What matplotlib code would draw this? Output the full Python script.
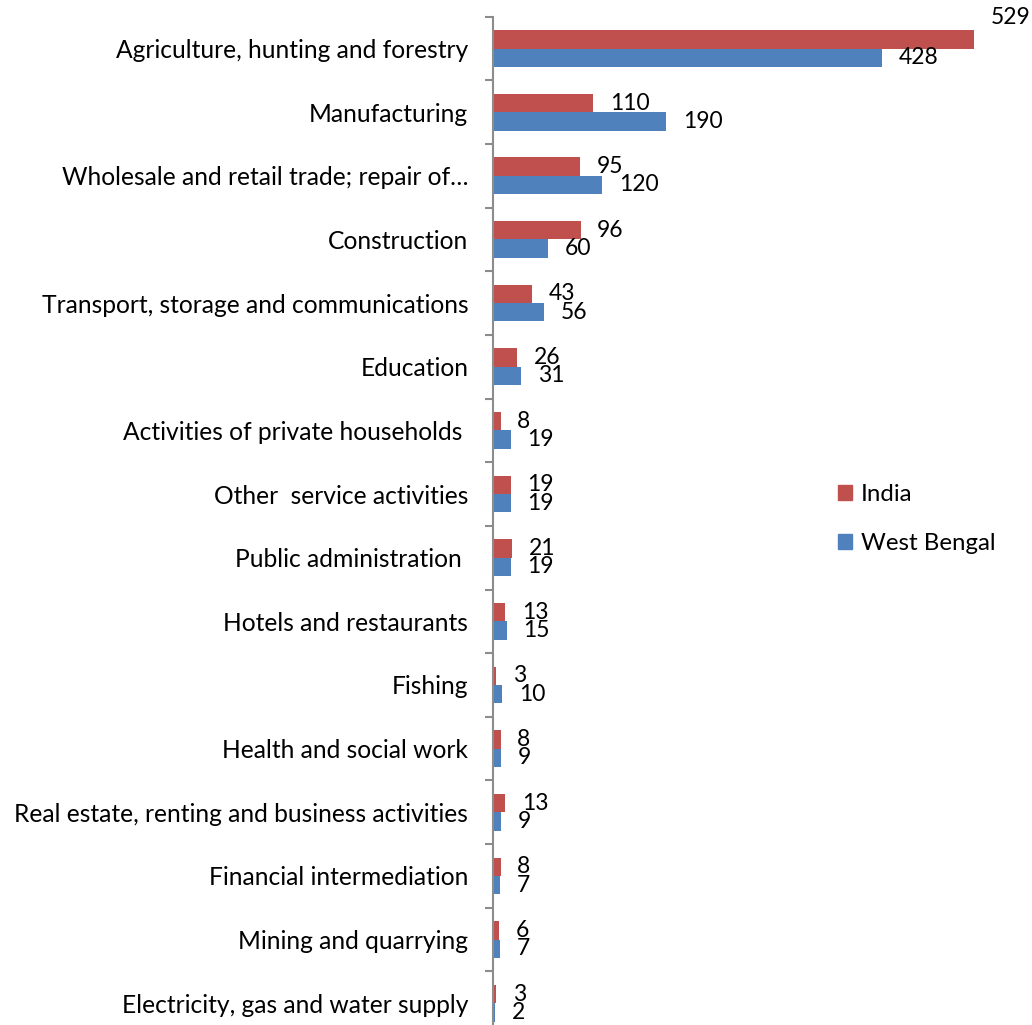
import matplotlib.pyplot as plt
import numpy as np
from matplotlib.patches import Patch

plt.rcParams['font.family'] = ['Lato', 'DejaVu Sans']

# Sectors, listed top to bottom
sectors = [
    "Agriculture, hunting and forestry",
    "Manufacturing",
    "Wholesale and retail trade; repair of\u2026",
    "Construction",
    "Transport, storage and communications",
    "Education",
    "Activities of private households ",
    "Other  service activities",
    "Public administration ",
    "Hotels and restaurants",
    "Fishing",
    "Health and social work",
    "Real estate, renting and business activities",
    "Financial intermediation",
    "Mining and quarrying",
    "Electricity, gas and water supply",
]
india = [529, 110, 95, 96, 43, 26, 8, 19, 21, 13, 3, 8, 13, 8, 6, 3]
west_bengal = [428, 190, 120, 60, 56, 31, 19, 19, 19, 15, 10, 9, 9, 7, 7, 2]

RED = '#C0504D'
BLUE = '#4F81BD'
AXIS_GREY = '#8C8C8C'
FS = 17.7

fig = plt.figure(figsize=(10.32, 10.25), dpi=100)
ax = fig.add_axes([0.478, -0.0098, 0.5283, 0.9935])

y = np.arange(len(sectors))
h = 0.288
ax.barh(y - h / 2, india, height=h, color=RED)
ax.barh(y + h / 2, west_bengal, height=h, color=BLUE)

# value labels at the end of each bar
for i, (a, b) in enumerate(zip(india, west_bengal)):
    dy = 16 if a == max(india) else 0
    ax.annotate(str(a), (a, i - h / 2), xytext=(12, dy), textcoords='offset points',
                va='center', ha='left', fontsize=16.5)
    ax.annotate(str(b), (b, i + h / 2), xytext=(12, 0), textcoords='offset points',
                va='center', ha='left', fontsize=16.5)

ax.set_xlim(0, 600)
ax.set_ylim(len(sectors) - 0.5, -0.5)

ax.set_yticks(y)
ax.set_yticklabels(sectors, fontsize=FS)
ax.set_yticks(np.arange(len(sectors) + 1) - 0.5, minor=True)
ax.tick_params(axis='y', which='major', length=0, pad=18)
ax.tick_params(axis='y', which='minor', length=5.5, width=1.5, color=AXIS_GREY)
ax.set_xticks([])

for side in ['top', 'right', 'bottom']:
    ax.spines[side].set_visible(False)
ax.spines['left'].set_color(AXIS_GREY)
ax.spines['left'].set_linewidth(1.5)

handles = [Patch(color=RED, label='India'), Patch(color=BLUE, label='West Bengal')]
fig.legend(handles=handles, loc='upper left', bbox_to_anchor=(838 / 1032, 1 - 484 / 1025),
           frameon=False, fontsize=17.3, handlelength=0.6, handleheight=0.6,
           handletextpad=0.35, labelspacing=1.15, borderpad=0, borderaxespad=0)

fig.savefig('out.png', dpi=100)
